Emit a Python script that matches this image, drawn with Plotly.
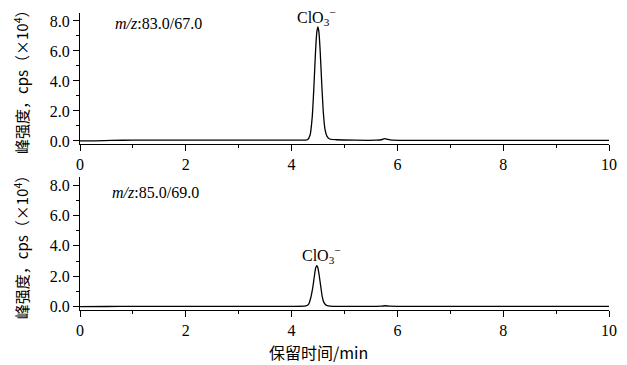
import plotly.graph_objects as go

# Data (retention time in min, intensity in 1e4 cps)
t_top = [0, 0.3, 0.6, 1.0, 2.0, 3.0, 4.0, 4.25, 4.30, 4.35, 4.39, 4.42, 4.45, 4.475, 4.495,
         4.515, 4.54, 4.57, 4.60, 4.63, 4.67, 4.72, 4.85, 5.2, 5.6, 5.7, 5.76, 5.82, 5.9,
         6.2, 7, 8, 9, 10]
v_top = [0.0, 0.01, 0.04, 0.05, 0.05, 0.05, 0.05, 0.06, 0.08, 0.4, 1.6, 3.5, 5.8, 7.2, 7.6,
         7.3, 6.0, 3.8, 1.9, 0.8, 0.3, 0.13, 0.08, 0.05, 0.05, 0.08, 0.16, 0.1, 0.05,
         0.04, 0.04, 0.04, 0.04, 0.04]

t_bot = [0, 0.5, 1.0, 2.0, 3.0, 4.0, 4.27, 4.32, 4.36, 4.40, 4.43, 4.455, 4.475, 4.495,
         4.52, 4.55, 4.58, 4.61, 4.65, 4.72, 5.0, 5.6, 5.7, 5.77, 5.85, 6.0, 7, 8, 9, 10]
v_bot = [0.0, 0.01, 0.02, 0.02, 0.02, 0.02, 0.05, 0.15, 0.55, 1.25, 2.0, 2.55, 2.7, 2.58,
         2.1, 1.35, 0.65, 0.28, 0.1, 0.04, 0.02, 0.02, 0.03, 0.06, 0.03, 0.02, 0.02, 0.02, 0.02, 0.02]

x_ticks = [0, 2, 4, 6, 8, 10]
y_ticks = [0, 2, 4, 6, 8]
y_ticklabels = ["0.0", "2.0", "4.0", "6.0", "8.0"]

FONT = "Liberation Serif, Noto Sans CJK SC, serif"
CJK = "Noto Sans CJK SC, Liberation Serif"

fig = go.Figure()
fig.add_trace(go.Scatter(x=t_top, y=v_top, mode="lines", xaxis="x", yaxis="y",
                         line=dict(color="black", width=1.3, shape="spline", smoothing=0.6),
                         showlegend=False))
fig.add_trace(go.Scatter(x=t_bot, y=v_bot, mode="lines", xaxis="x2", yaxis="y2",
                         line=dict(color="black", width=1.3, shape="spline", smoothing=0.6),
                         showlegend=False))

xcommon = dict(range=[0, 10], tickvals=x_ticks, ticks="outside", ticklen=6, tickwidth=1,
               tickcolor="black", showline=True, linecolor="black", linewidth=1.3,
               showgrid=False, zeroline=False, automargin=False,
               tickfont=dict(family=FONT, size=16, color="black"),
               minor=dict(dtick=1, tick0=0, ticks="outside", ticklen=3, tickcolor="black"))
ycommon = dict(tickvals=y_ticks, ticktext=y_ticklabels, ticks="outside", ticklen=6, tickwidth=1,
               tickcolor="black", showline=True, linecolor="black", linewidth=1.3,
               showgrid=False, zeroline=False, automargin=False,
               tickfont=dict(family=FONT, size=16, color="black"),
               minor=dict(dtick=1, tick0=0, ticks="outside", ticklen=3, tickcolor="black"),
               title=dict(text="峰强度，cps（×10<sup>4</sup>）",
                          font=dict(family=CJK, size=15, color="black"), standoff=17))

fig.update_layout(
    width=627, height=365,
    margin=dict(l=80, r=18, t=13, b=55, autoexpand=False),
    paper_bgcolor="white", plot_bgcolor="white",
    xaxis=dict(domain=[0, 1], anchor="y", **xcommon),
    yaxis=dict(domain=[0.5606, 1], anchor="x", range=[-0.17, 8.53], **ycommon),
    xaxis2=dict(domain=[0, 1], anchor="y2", **xcommon),
    yaxis2=dict(domain=[0, 0.4478], anchor="x2", range=[-0.22, 8.53], **ycommon),
)

fig.add_annotation(x=0.62, y=7.8, xref="x", yref="y", xanchor="left", showarrow=False,
                   text="<i>m/z</i>:83.0/67.0", font=dict(family=FONT, size=16, color="black"))
fig.add_annotation(x=0.57, y=7.48, xref="x2", yref="y2", xanchor="left", showarrow=False,
                   text="<i>m/z</i>:85.0/69.0", font=dict(family=FONT, size=16, color="black"))
fig.add_annotation(x=4.48, y=8.27, xref="x", yref="y", showarrow=False,
                   text="ClO<sub>3</sub><sup>−</sup>", font=dict(family=FONT, size=16, color="black"))
fig.add_annotation(x=4.56, y=3.4, xref="x2", yref="y2", showarrow=False,
                   text="ClO<sub>3</sub><sup>−</sup>", font=dict(family=FONT, size=16, color="black"))
fig.add_annotation(x=(318 - 80) / 529, y=-0.14, xref="paper", yref="paper", showarrow=False,
                   yanchor="middle",
                   text="保留时间/min", font=dict(family=CJK, size=16, color="black"))

fig.write_html("out.html", config={"displayModeBar": False},
               post_script="document.body.style.margin='0';document.body.style.padding='0';")
